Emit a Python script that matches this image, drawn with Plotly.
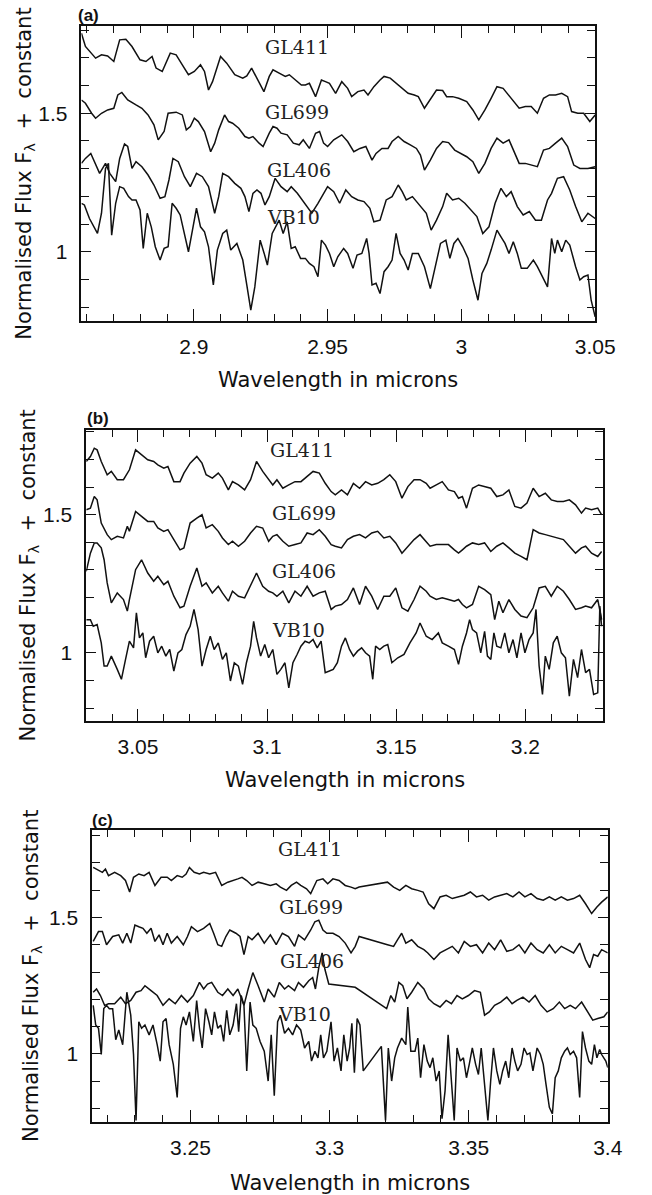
import plotly.graph_objects as go

# ---------------- Panel (a) data ----------------
a_gl411_wl = [2.8580, 2.8595, 2.8633, 2.8655, 2.8678, 2.8701, 2.8723, 2.8746, 2.8769, 2.8799,
              2.8821, 2.8844, 2.8859, 2.8882, 2.8912, 2.8934, 2.8957, 2.8980, 2.9002, 2.9025,
              2.9040, 2.9055, 2.9070, 2.9100, 2.9123, 2.9153, 2.9183, 2.9198, 2.9216, 2.9236,
              2.9262, 2.9282, 2.9296, 2.9319, 2.9342, 2.9357, 2.9379, 2.9402, 2.9417, 2.9432,
              2.9455, 2.9477, 2.9492, 2.9507, 2.9530, 2.9553, 2.9575, 2.9590, 2.9613, 2.9636,
              2.9651, 2.9673, 2.9696, 2.9711, 2.9734, 2.9756, 2.9779, 2.9801, 2.9824, 2.9839,
              2.9862, 2.9884, 2.9907, 2.9930, 2.9945, 2.9967, 2.9990, 3.0020, 3.0043, 3.0065,
              3.0088, 3.0111, 3.0133, 3.0156, 3.0171, 3.0201, 3.0216, 3.0239, 3.0261, 3.0284,
              3.0307, 3.0329, 3.0352, 3.0375, 3.0397, 3.0412, 3.0435, 3.0457, 3.0480, 3.0500]
a_gl411_fx = [1.789, 1.741, 1.699, 1.711, 1.707, 1.687, 1.765, 1.767, 1.741, 1.693,
              1.687, 1.705, 1.663, 1.651, 1.717, 1.711, 1.675, 1.639, 1.651, 1.675,
              1.651, 1.584, 1.614, 1.705, 1.681, 1.639, 1.627, 1.635, 1.663, 1.627,
              1.578, 1.633, 1.657, 1.645, 1.633, 1.639, 1.620, 1.602, 1.602, 1.608,
              1.560, 1.620, 1.614, 1.608, 1.572, 1.614, 1.590, 1.560, 1.578, 1.584,
              1.566, 1.596, 1.620, 1.633, 1.627, 1.608, 1.590, 1.572, 1.566, 1.560,
              1.518, 1.548, 1.584, 1.582, 1.560, 1.560, 1.554, 1.542, 1.512, 1.476,
              1.512, 1.554, 1.596, 1.590, 1.572, 1.536, 1.518, 1.524, 1.524, 1.500,
              1.554, 1.566, 1.566, 1.572, 1.560, 1.506, 1.500, 1.500, 1.470, 1.494]

a_gl699_wl = [2.8580, 2.8595, 2.8618, 2.8633, 2.8655, 2.8678, 2.8701, 2.8716, 2.8731, 2.8753,
              2.8784, 2.8806, 2.8829, 2.8851, 2.8867, 2.8889, 2.8904, 2.8934, 2.8957, 2.8972,
              2.8987, 2.9002, 2.9017, 2.9040, 2.9063, 2.9078, 2.9093, 2.9115, 2.9130, 2.9145,
              2.9168, 2.9191, 2.9206, 2.9221, 2.9244, 2.9259, 2.9282, 2.9296, 2.9311, 2.9326,
              2.9349, 2.9372, 2.9394, 2.9409, 2.9432, 2.9455, 2.9470, 2.9485, 2.9500, 2.9523,
              2.9553, 2.9575, 2.9598, 2.9621, 2.9643, 2.9666, 2.9681, 2.9703, 2.9726, 2.9741,
              2.9764, 2.9786, 2.9809, 2.9832, 2.9847, 2.9862, 2.9884, 2.9907, 2.9930, 2.9952,
              2.9975, 2.9998, 3.0020, 3.0043, 3.0065, 3.0088, 3.0111, 3.0133, 3.0156, 3.0178,
              3.0201, 3.0216, 3.0239, 3.0261, 3.0284, 3.0307, 3.0329, 3.0352, 3.0375, 3.0397,
              3.0420, 3.0443, 3.0473, 3.0500]
a_gl699_fx = [1.548, 1.536, 1.500, 1.482, 1.500, 1.512, 1.518, 1.566, 1.575, 1.548,
              1.530, 1.518, 1.494, 1.458, 1.404, 1.434, 1.500, 1.504, 1.494, 1.440,
              1.452, 1.482, 1.470, 1.434, 1.361, 1.392, 1.440, 1.494, 1.470, 1.464,
              1.446, 1.416, 1.410, 1.416, 1.392, 1.380, 1.428, 1.452, 1.446, 1.428,
              1.422, 1.392, 1.386, 1.404, 1.373, 1.428, 1.434, 1.392, 1.380, 1.404,
              1.422, 1.398, 1.361, 1.373, 1.380, 1.331, 1.355, 1.373, 1.373, 1.398,
              1.416, 1.398, 1.386, 1.373, 1.349, 1.295, 1.331, 1.373, 1.398, 1.394,
              1.367, 1.355, 1.343, 1.325, 1.283, 1.319, 1.373, 1.410, 1.392, 1.404,
              1.355, 1.319, 1.319, 1.313, 1.307, 1.367, 1.373, 1.392, 1.410, 1.380,
              1.313, 1.301, 1.301, 1.307]

a_gl406_wl = [2.8580, 2.8595, 2.8615, 2.8633, 2.8648, 2.8670, 2.8686, 2.8708, 2.8723, 2.8741,
              2.8753, 2.8769, 2.8784, 2.8806, 2.8829, 2.8851, 2.8874, 2.8892, 2.8907, 2.8922,
              2.8942, 2.8965, 2.8987, 2.9010, 2.9032, 2.9055, 2.9078, 2.9093, 2.9108, 2.9130,
              2.9153, 2.9176, 2.9191, 2.9206, 2.9221, 2.9236, 2.9251, 2.9266, 2.9282, 2.9304,
              2.9326, 2.9349, 2.9364, 2.9387, 2.9417, 2.9441, 2.9464, 2.9500, 2.9523, 2.9545,
              2.9568, 2.9590, 2.9613, 2.9636, 2.9658, 2.9673, 2.9696, 2.9719, 2.9741, 2.9764,
              2.9779, 2.9794, 2.9817, 2.9839, 2.9869, 2.9887, 2.9907, 2.9930, 2.9945, 2.9967,
              2.9990, 3.0013, 3.0035, 3.0058, 3.0080, 3.0103, 3.0126, 3.0148, 3.0168, 3.0186,
              3.0209, 3.0231, 3.0254, 3.0277, 3.0299, 3.0322, 3.0337, 3.0359, 3.0382, 3.0405,
              3.0427, 3.0450, 3.0473, 3.0500]
a_gl406_fx = [1.319, 1.337, 1.355, 1.319, 1.283, 1.319, 1.283, 1.253, 1.337, 1.389,
              1.380, 1.301, 1.325, 1.307, 1.277, 1.241, 1.193, 1.199, 1.259, 1.337,
              1.325, 1.271, 1.235, 1.283, 1.271, 1.235, 1.139, 1.199, 1.283, 1.271,
              1.247, 1.229, 1.199, 1.145, 1.211, 1.223, 1.211, 1.169, 1.199, 1.265,
              1.235, 1.217, 1.235, 1.211, 1.169, 1.139, 1.175, 1.235, 1.217, 1.175,
              1.223, 1.199, 1.187, 1.181, 1.157, 1.108, 1.114, 1.187, 1.199, 1.241,
              1.217, 1.187, 1.199, 1.175, 1.139, 1.078, 1.114, 1.163, 1.211, 1.187,
              1.193, 1.175, 1.151, 1.127, 1.066, 1.090, 1.175, 1.229, 1.199, 1.217,
              1.163, 1.133, 1.145, 1.114, 1.114, 1.187, 1.211, 1.265, 1.271, 1.223,
              1.163, 1.108, 1.139, 1.120]

a_vb10_wl = [2.8580, 2.8591, 2.8610, 2.8625, 2.8640, 2.8655, 2.8670, 2.8681, 2.8693, 2.8708,
             2.8723, 2.8738, 2.8756, 2.8769, 2.8784, 2.8799, 2.8811, 2.8826, 2.8841, 2.8856,
             2.8874, 2.8889, 2.8904, 2.8919, 2.8934, 2.8949, 2.8965, 2.8980, 2.8995, 2.9010,
             2.9025, 2.9040, 2.9055, 2.9073, 2.9088, 2.9108, 2.9123, 2.9138, 2.9161, 2.9183,
             2.9198, 2.9213, 2.9228, 2.9248, 2.9263, 2.9275, 2.9293, 2.9319, 2.9334, 2.9349,
             2.9364, 2.9379, 2.9399, 2.9417, 2.9432, 2.9449, 2.9464, 2.9477, 2.9492, 2.9507,
             2.9523, 2.9538, 2.9560, 2.9575, 2.9595, 2.9610, 2.9628, 2.9646, 2.9655, 2.9666,
             2.9681, 2.9696, 2.9711, 2.9726, 2.9741, 2.9756, 2.9771, 2.9786, 2.9801, 2.9817,
             2.9839, 2.9862, 2.9884, 2.9903, 2.9922, 2.9942, 2.9957, 2.9972, 2.9987, 3.0005,
             3.0025, 3.0043, 3.0062, 3.0077, 3.0095, 3.0111, 3.0133, 3.0148, 3.0163, 3.0178,
             3.0194, 3.0209, 3.0224, 3.0246, 3.0269, 3.0284, 3.0307, 3.0322, 3.0337, 3.0349,
             3.0359, 3.0375, 3.0390, 3.0405, 3.0427, 3.0443, 3.0457, 3.0473, 3.0485, 3.0500]
a_vb10_fx = [1.175, 1.169, 1.120, 1.090, 1.066, 1.139, 1.301, 1.319, 1.060, 1.175,
             1.235, 1.229, 1.199, 1.187, 1.187, 1.151, 1.012, 1.139, 1.090, 1.018,
             0.970, 1.012, 1.018, 1.175, 1.157, 1.133, 1.066, 1.000, 1.078, 1.157,
             1.090, 1.072, 1.018, 0.880, 1.006, 1.066, 1.078, 1.006, 1.030, 0.970,
             0.880, 0.789, 0.873, 1.042, 0.994, 0.952, 1.066, 1.114, 1.066, 1.108,
             1.012, 1.018, 0.976, 0.976, 0.958, 0.946, 0.910, 1.042, 1.024, 0.994,
             0.946, 0.982, 1.012, 0.994, 0.940, 0.988, 0.994, 1.048, 0.994, 0.880,
             0.886, 0.849, 0.928, 0.946, 0.970, 1.066, 0.994, 0.970, 0.934, 0.994,
             0.994, 0.946, 0.867, 0.946, 1.030, 1.042, 0.976, 1.030, 1.048, 1.018,
             0.976, 0.898, 0.825, 0.922, 0.958, 1.006, 1.078, 1.054, 1.030, 0.994,
             1.036, 0.994, 0.940, 0.940, 0.970, 0.946, 0.898, 0.873, 1.048, 0.994,
             1.042, 1.000, 1.042, 1.024, 0.946, 0.898, 0.910, 0.916, 0.825, 0.765]

# ---------------- Panel (b) data ----------------
b_gl411_wl = [3.0300, 3.0316, 3.0331, 3.0342, 3.0358, 3.0381, 3.0397, 3.0420, 3.0444, 3.0467,
              3.0491, 3.0514, 3.0538, 3.0561, 3.0577, 3.0600, 3.0616, 3.0639, 3.0663, 3.0678,
              3.0702, 3.0728, 3.0748, 3.0764, 3.0788, 3.0811, 3.0827, 3.0850, 3.0866, 3.0889,
              3.0913, 3.0936, 3.0959, 3.0983, 3.1006, 3.1022, 3.1038, 3.1061, 3.1084, 3.1108,
              3.1131, 3.1155, 3.1178, 3.1202, 3.1225, 3.1248, 3.1264, 3.1288, 3.1311, 3.1334,
              3.1358, 3.1381, 3.1405, 3.1428, 3.1452, 3.1475, 3.1498, 3.1522, 3.1545, 3.1569,
              3.1592, 3.1616, 3.1631, 3.1655, 3.1678, 3.1702, 3.1725, 3.1741, 3.1756, 3.1772,
              3.1795, 3.1819, 3.1842, 3.1866, 3.1889, 3.1913, 3.1936, 3.1959, 3.1983, 3.2006,
              3.2030, 3.2053, 3.2077, 3.2100, 3.2123, 3.2147, 3.2170, 3.2194, 3.2217, 3.2233,
              3.2256, 3.2280, 3.2295]
b_gl411_fx = [1.693, 1.711, 1.741, 1.735, 1.693, 1.645, 1.657, 1.627, 1.627, 1.663,
              1.735, 1.717, 1.699, 1.693, 1.681, 1.669, 1.675, 1.620, 1.620, 1.651,
              1.687, 1.711, 1.687, 1.645, 1.633, 1.651, 1.633, 1.590, 1.620, 1.608,
              1.590, 1.627, 1.693, 1.657, 1.627, 1.608, 1.627, 1.596, 1.608, 1.620,
              1.620, 1.639, 1.657, 1.651, 1.614, 1.584, 1.572, 1.590, 1.572, 1.614,
              1.596, 1.620, 1.608, 1.614, 1.627, 1.645, 1.620, 1.560, 1.602, 1.627,
              1.627, 1.614, 1.596, 1.608, 1.620, 1.590, 1.584, 1.560, 1.566, 1.524,
              1.596, 1.608, 1.602, 1.596, 1.566, 1.572, 1.590, 1.530, 1.524, 1.542,
              1.596, 1.566, 1.578, 1.554, 1.548, 1.548, 1.554, 1.536, 1.506, 1.524,
              1.518, 1.524, 1.500]

b_gl699_wl = [3.0300, 3.0316, 3.0331, 3.0342, 3.0358, 3.0381, 3.0397, 3.0420, 3.0444, 3.0459,
              3.0467, 3.0491, 3.0514, 3.0538, 3.0561, 3.0577, 3.0600, 3.0616, 3.0639, 3.0663,
              3.0678, 3.0702, 3.0728, 3.0748, 3.0764, 3.0788, 3.0811, 3.0827, 3.0850, 3.0866,
              3.0889, 3.0913, 3.0936, 3.0959, 3.0983, 3.1006, 3.1022, 3.1038, 3.1061, 3.1084,
              3.1108, 3.1131, 3.1155, 3.1178, 3.1202, 3.1225, 3.1248, 3.1264, 3.1288, 3.1311,
              3.1334, 3.1358, 3.1381, 3.1405, 3.1428, 3.1452, 3.1475, 3.1498, 3.1522, 3.1545,
              3.1569, 3.1592, 3.1616, 3.1631, 3.1655, 3.1678, 3.1702, 3.1725, 3.1741, 3.1756,
              3.1772, 3.1795, 3.1819, 3.1842, 3.1866, 3.1889, 3.1913, 3.1936, 3.1959, 3.1983,
              3.2006, 3.2030, 3.2053, 3.2077, 3.2100, 3.2123, 3.2147, 3.2170, 3.2194, 3.2217,
              3.2233, 3.2256, 3.2280, 3.2295]
b_gl699_fx = [1.518, 1.524, 1.566, 1.554, 1.470, 1.428, 1.410, 1.422, 1.416, 1.458,
              1.440, 1.512, 1.494, 1.476, 1.476, 1.452, 1.440, 1.446, 1.410, 1.373,
              1.380, 1.470, 1.488, 1.500, 1.452, 1.464, 1.440, 1.416, 1.392, 1.404,
              1.386, 1.404, 1.434, 1.458, 1.452, 1.404, 1.422, 1.428, 1.404, 1.386,
              1.392, 1.398, 1.434, 1.428, 1.446, 1.422, 1.392, 1.386, 1.380, 1.410,
              1.422, 1.428, 1.416, 1.434, 1.440, 1.416, 1.422, 1.398, 1.361, 1.386,
              1.410, 1.428, 1.404, 1.386, 1.392, 1.392, 1.392, 1.373, 1.361, 1.373,
              1.386, 1.398, 1.392, 1.398, 1.367, 1.386, 1.398, 1.380, 1.361, 1.349,
              1.337, 1.446, 1.434, 1.428, 1.422, 1.416, 1.410, 1.386, 1.361, 1.380,
              1.386, 1.361, 1.349, 1.367]

b_gl406_wl = [3.0300, 3.0316, 3.0331, 3.0342, 3.0358, 3.0369, 3.0381, 3.0397, 3.0420, 3.0444,
              3.0459, 3.0467, 3.0491, 3.0514, 3.0538, 3.0561, 3.0577, 3.0600, 3.0616, 3.0639,
              3.0663, 3.0678, 3.0702, 3.0728, 3.0748, 3.0764, 3.0788, 3.0811, 3.0827, 3.0850,
              3.0866, 3.0889, 3.0913, 3.0936, 3.0959, 3.0983, 3.1006, 3.1022, 3.1038, 3.1061,
              3.1084, 3.1108, 3.1131, 3.1155, 3.1178, 3.1202, 3.1225, 3.1248, 3.1264, 3.1288,
              3.1311, 3.1334, 3.1358, 3.1381, 3.1405, 3.1428, 3.1452, 3.1475, 3.1498, 3.1522,
              3.1545, 3.1569, 3.1592, 3.1616, 3.1631, 3.1655, 3.1678, 3.1702, 3.1725, 3.1741,
              3.1756, 3.1772, 3.1795, 3.1819, 3.1842, 3.1866, 3.1881, 3.1897, 3.1913, 3.1936,
              3.1959, 3.1983, 3.2006, 3.2030, 3.2053, 3.2077, 3.2100, 3.2123, 3.2147, 3.2170,
              3.2194, 3.2217, 3.2233, 3.2256, 3.2280, 3.2295]
b_gl406_fx = [1.295, 1.361, 1.398, 1.398, 1.380, 1.337, 1.253, 1.181, 1.217, 1.193,
              1.151, 1.193, 1.301, 1.337, 1.289, 1.259, 1.277, 1.247, 1.259, 1.205,
              1.163, 1.169, 1.241, 1.307, 1.241, 1.253, 1.217, 1.241, 1.217, 1.187,
              1.223, 1.205, 1.199, 1.241, 1.289, 1.241, 1.223, 1.217, 1.205, 1.223,
              1.181, 1.223, 1.205, 1.241, 1.205, 1.217, 1.223, 1.157, 1.169, 1.175,
              1.193, 1.235, 1.175, 1.241, 1.205, 1.157, 1.205, 1.205, 1.235, 1.163,
              1.151, 1.193, 1.241, 1.223, 1.205, 1.193, 1.199, 1.193, 1.187, 1.193,
              1.175, 1.163, 1.175, 1.241, 1.229, 1.211, 1.120, 1.187, 1.145, 1.193,
              1.157, 1.133, 1.127, 1.163, 1.235, 1.241, 1.205, 1.241, 1.223, 1.193,
              1.157, 1.163, 1.169, 1.163, 1.193, 1.120]

b_vb10_wl = [3.0300, 3.0316, 3.0327, 3.0342, 3.0358, 3.0369, 3.0381, 3.0397, 3.0420, 3.0436,
             3.0452, 3.0467, 3.0483, 3.0494, 3.0506, 3.0519, 3.0530, 3.0545, 3.0561, 3.0577,
             3.0592, 3.0608, 3.0623, 3.0639, 3.0655, 3.0670, 3.0686, 3.0702, 3.0717, 3.0733,
             3.0748, 3.0764, 3.0780, 3.0795, 3.0811, 3.0827, 3.0842, 3.0858, 3.0873, 3.0889,
             3.0905, 3.0920, 3.0936, 3.0948, 3.0959, 3.0975, 3.0991, 3.1006, 3.1022, 3.1038,
             3.1053, 3.1069, 3.1084, 3.1100, 3.1116, 3.1131, 3.1147, 3.1163, 3.1178, 3.1194,
             3.1209, 3.1225, 3.1241, 3.1256, 3.1272, 3.1288, 3.1303, 3.1319, 3.1334, 3.1350,
             3.1366, 3.1381, 3.1397, 3.1409, 3.1420, 3.1436, 3.1452, 3.1467, 3.1483, 3.1506,
             3.1530, 3.1553, 3.1577, 3.1592, 3.1616, 3.1639, 3.1663, 3.1678, 3.1702, 3.1725,
             3.1741, 3.1756, 3.1772, 3.1784, 3.1795, 3.1811, 3.1827, 3.1842, 3.1853, 3.1866,
             3.1878, 3.1889, 3.1905, 3.1920, 3.1936, 3.1952, 3.1967, 3.1983, 3.1998, 3.2014,
             3.2030, 3.2041, 3.2053, 3.2066, 3.2077, 3.2092, 3.2108, 3.2123, 3.2139, 3.2155,
             3.2170, 3.2186, 3.2202, 3.2217, 3.2233, 3.2248, 3.2264, 3.2280, 3.2288, 3.2295]
b_vb10_fx = [1.120, 1.120, 1.096, 1.102, 1.036, 0.952, 0.952, 0.988, 0.940, 0.904,
             0.976, 1.042, 1.018, 1.145, 1.054, 1.072, 0.982, 1.042, 1.060, 1.000,
             1.024, 0.988, 1.012, 0.934, 1.000, 1.012, 1.066, 1.096, 1.157, 1.084,
             0.952, 1.012, 1.060, 1.012, 1.036, 0.976, 1.000, 0.898, 0.964, 0.952,
             0.886, 0.964, 1.024, 1.114, 1.054, 0.988, 1.030, 0.982, 1.012, 0.922,
             0.940, 0.964, 0.873, 0.964, 0.994, 1.024, 1.042, 1.036, 1.048, 1.018,
             1.042, 0.928, 0.934, 0.940, 0.964, 1.024, 1.054, 1.012, 0.988, 1.006,
             1.018, 1.000, 0.988, 0.904, 1.024, 1.012, 1.024, 1.030, 0.964, 0.982,
             0.994, 1.036, 1.072, 1.108, 1.060, 1.048, 1.072, 1.036, 1.024, 1.012,
             0.958, 1.024, 1.072, 1.120, 1.084, 1.072, 1.000, 1.078, 0.988, 0.976,
             1.072, 1.024, 1.018, 1.072, 1.000, 1.048, 0.982, 1.072, 1.000, 1.048,
             1.072, 1.157, 0.952, 0.849, 0.988, 0.940, 1.036, 1.060, 1.000, 0.982,
             0.843, 0.976, 0.910, 1.012, 0.928, 0.940, 0.849, 0.855, 1.169, 1.096]

# ---------------- Panel (c) data ----------------
c_gl411_wl = [3.2150, 3.2169, 3.2183, 3.2194, 3.2205, 3.2227, 3.2249, 3.2266, 3.2281, 3.2295,
              3.2314, 3.2333, 3.2351, 3.2372, 3.2394, 3.2416, 3.2431, 3.2452, 3.2470, 3.2484,
              3.2496, 3.2513, 3.2532, 3.2547, 3.2569, 3.2590, 3.2612, 3.2634, 3.2656, 3.2670,
              3.2685, 3.2702, 3.2721, 3.2743, 3.2765, 3.2787, 3.2808, 3.2823, 3.2845, 3.2862,
              3.2881, 3.2896, 3.2917, 3.2932, 3.2954, 3.2976, 3.2993, 3.3012, 3.3034, 3.3056,
              3.3077, 3.3092, 3.3106, 3.3208, 3.3230, 3.3252, 3.3274, 3.3295, 3.3317, 3.3336,
              3.3356, 3.3375, 3.3397, 3.3419, 3.3441, 3.3463, 3.3484, 3.3506, 3.3528, 3.3550,
              3.3572, 3.3593, 3.3615, 3.3637, 3.3659, 3.3681, 3.3702, 3.3724, 3.3746, 3.3768,
              3.3790, 3.3811, 3.3833, 3.3855, 3.3877, 3.3899, 3.3920, 3.3942, 3.3961, 3.3978,
              3.4000]
c_gl411_fx = [1.683, 1.671, 1.665, 1.677, 1.653, 1.665, 1.653, 1.635, 1.593, 1.647,
              1.659, 1.653, 1.665, 1.617, 1.647, 1.647, 1.635, 1.653, 1.647, 1.659,
              1.683, 1.665, 1.659, 1.665, 1.659, 1.665, 1.617, 1.629, 1.635, 1.641,
              1.647, 1.635, 1.617, 1.629, 1.623, 1.617, 1.623, 1.611, 1.599, 1.617,
              1.629, 1.617, 1.605, 1.587, 1.635, 1.641, 1.623, 1.641, 1.635, 1.617,
              1.611, 1.605, 1.611, 1.629, 1.611, 1.599, 1.617, 1.605, 1.599, 1.593,
              1.550, 1.532, 1.575, 1.581, 1.569, 1.575, 1.581, 1.593, 1.575, 1.581,
              1.563, 1.575, 1.581, 1.587, 1.575, 1.593, 1.575, 1.587, 1.569, 1.563,
              1.575, 1.563, 1.575, 1.563, 1.569, 1.581, 1.550, 1.514, 1.538, 1.556,
              1.575]

c_gl699_wl = [3.2150, 3.2169, 3.2183, 3.2198, 3.2220, 3.2242, 3.2256, 3.2271, 3.2285, 3.2300,
              3.2314, 3.2329, 3.2343, 3.2358, 3.2372, 3.2387, 3.2401, 3.2416, 3.2431, 3.2452,
              3.2474, 3.2489, 3.2503, 3.2525, 3.2547, 3.2569, 3.2583, 3.2598, 3.2612, 3.2627,
              3.2641, 3.2663, 3.2678, 3.2692, 3.2707, 3.2721, 3.2743, 3.2765, 3.2787, 3.2808,
              3.2830, 3.2852, 3.2874, 3.2888, 3.2910, 3.2932, 3.2947, 3.2961, 3.2976, 3.2990,
              3.3012, 3.3034, 3.3056, 3.3077, 3.3092, 3.3106, 3.3208, 3.3230, 3.3244, 3.3259,
              3.3274, 3.3295, 3.3317, 3.3339, 3.3353, 3.3375, 3.3397, 3.3419, 3.3441, 3.3463,
              3.3484, 3.3506, 3.3528, 3.3550, 3.3572, 3.3593, 3.3615, 3.3637, 3.3659, 3.3681,
              3.3702, 3.3724, 3.3746, 3.3768, 3.3790, 3.3811, 3.3833, 3.3855, 3.3877, 3.3899,
              3.3920, 3.3935, 3.3949, 3.3964, 3.3978, 3.4000]
c_gl699_fx = [1.412, 1.448, 1.448, 1.400, 1.430, 1.436, 1.406, 1.442, 1.406, 1.472,
              1.466, 1.460, 1.442, 1.460, 1.412, 1.436, 1.400, 1.442, 1.406, 1.430,
              1.400, 1.430, 1.466, 1.448, 1.460, 1.478, 1.442, 1.400, 1.394, 1.430,
              1.454, 1.442, 1.430, 1.364, 1.430, 1.418, 1.442, 1.406, 1.436, 1.400,
              1.442, 1.430, 1.394, 1.436, 1.418, 1.454, 1.484, 1.490, 1.454, 1.442,
              1.442, 1.430, 1.406, 1.370, 1.394, 1.430, 1.400, 1.394, 1.418, 1.442,
              1.406, 1.418, 1.394, 1.382, 1.370, 1.346, 1.370, 1.382, 1.394, 1.370,
              1.412, 1.394, 1.400, 1.370, 1.406, 1.382, 1.418, 1.376, 1.382, 1.400,
              1.370, 1.406, 1.382, 1.370, 1.400, 1.370, 1.394, 1.382, 1.370, 1.406,
              1.346, 1.316, 1.364, 1.358, 1.382, 1.370]

c_gl406_wl = [3.2150, 3.2162, 3.2176, 3.2191, 3.2205, 3.2227, 3.2249, 3.2266, 3.2285, 3.2304,
              3.2322, 3.2336, 3.2358, 3.2380, 3.2401, 3.2423, 3.2445, 3.2467, 3.2489, 3.2510,
              3.2532, 3.2547, 3.2561, 3.2576, 3.2598, 3.2615, 3.2634, 3.2653, 3.2670, 3.2692,
              3.2707, 3.2724, 3.2743, 3.2765, 3.2779, 3.2801, 3.2819, 3.2838, 3.2852, 3.2874,
              3.2888, 3.2906, 3.2925, 3.2939, 3.2949, 3.2961, 3.2973, 3.2983, 3.2997, 3.3092,
              3.3205, 3.3220, 3.3234, 3.3249, 3.3263, 3.3278, 3.3295, 3.3317, 3.3339, 3.3356,
              3.3375, 3.3397, 3.3419, 3.3438, 3.3458, 3.3477, 3.3499, 3.3521, 3.3542, 3.3557,
              3.3574, 3.3593, 3.3615, 3.3637, 3.3656, 3.3673, 3.3695, 3.3717, 3.3739, 3.3760,
              3.3782, 3.3804, 3.3826, 3.3845, 3.3865, 3.3884, 3.3906, 3.3928, 3.3946, 3.3964,
              3.3986, 3.4000]
c_gl406_fx = [1.226, 1.238, 1.214, 1.178, 1.184, 1.184, 1.208, 1.184, 1.196, 1.226,
              1.232, 1.250, 1.232, 1.214, 1.178, 1.202, 1.184, 1.214, 1.190, 1.214,
              1.262, 1.238, 1.256, 1.262, 1.226, 1.214, 1.238, 1.214, 1.238, 1.178,
              1.238, 1.298, 1.250, 1.190, 1.238, 1.208, 1.262, 1.238, 1.250, 1.232,
              1.262, 1.244, 1.268, 1.280, 1.238, 1.316, 1.370, 1.310, 1.256, 1.244,
              1.166, 1.214, 1.190, 1.262, 1.250, 1.202, 1.226, 1.262, 1.238, 1.202,
              1.184, 1.172, 1.196, 1.184, 1.214, 1.202, 1.214, 1.232, 1.226, 1.142,
              1.154, 1.178, 1.190, 1.208, 1.184, 1.196, 1.208, 1.190, 1.214, 1.178,
              1.154, 1.166, 1.190, 1.166, 1.178, 1.166, 1.190, 1.154, 1.124, 1.130,
              1.136, 1.154]

c_vb10_wl = [3.2150, 3.2159, 3.2169, 3.2179, 3.2188, 3.2198, 3.2208, 3.2220, 3.2231, 3.2242,
             3.2256, 3.2271, 3.2285, 3.2295, 3.2304, 3.2314, 3.2324, 3.2336, 3.2351, 3.2365,
             3.2380, 3.2391, 3.2401, 3.2412, 3.2423, 3.2438, 3.2452, 3.2464, 3.2474, 3.2484,
             3.2496, 3.2510, 3.2522, 3.2532, 3.2542, 3.2554, 3.2566, 3.2576, 3.2586, 3.2598,
             3.2609, 3.2619, 3.2630, 3.2641, 3.2653, 3.2665, 3.2673, 3.2682, 3.2692, 3.2702,
             3.2714, 3.2724, 3.2736, 3.2750, 3.2765, 3.2779, 3.2790, 3.2801, 3.2813, 3.2823,
             3.2838, 3.2852, 3.2867, 3.2881, 3.2896, 3.2910, 3.2925, 3.2935, 3.2947, 3.2958,
             3.2968, 3.2978, 3.2990, 3.3005, 3.3016, 3.3028, 3.3041, 3.3051, 3.3063, 3.3072,
             3.3080, 3.3089, 3.3099, 3.3109, 3.3121, 3.3186, 3.3201, 3.3211, 3.3223, 3.3234,
             3.3244, 3.3259, 3.3274, 3.3281, 3.3292, 3.3307, 3.3317, 3.3327, 3.3339, 3.3351,
             3.3361, 3.3371, 3.3383, 3.3394, 3.3404, 3.3415, 3.3426, 3.3438, 3.3448, 3.3458,
             3.3470, 3.3481, 3.3492, 3.3502, 3.3513, 3.3525, 3.3535, 3.3545, 3.3557, 3.3569,
             3.3579, 3.3589, 3.3601, 3.3612, 3.3622, 3.3633, 3.3644, 3.3656, 3.3666, 3.3676,
             3.3688, 3.3699, 3.3710, 3.3720, 3.3731, 3.3746, 3.3758, 3.3768, 3.3778, 3.3790,
             3.3801, 3.3811, 3.3822, 3.3833, 3.3845, 3.3855, 3.3865, 3.3877, 3.3888, 3.3899,
             3.3909, 3.3920, 3.3932, 3.3942, 3.3952, 3.3961, 3.3971, 3.3978, 3.3993, 3.4000]
c_vb10_fx = [1.178, 1.106, 1.094, 0.998, 1.166, 1.178, 1.166, 1.166, 1.052, 1.088,
             1.034, 1.226, 1.142, 0.998, 0.757, 1.118, 1.094, 1.106, 1.070, 1.106,
             1.034, 0.974, 1.118, 1.130, 1.034, 0.962, 0.841, 1.094, 1.136, 1.106,
             1.154, 1.046, 1.196, 1.094, 1.022, 1.166, 1.118, 1.070, 1.154, 1.094,
             1.106, 1.046, 1.160, 1.070, 1.106, 1.184, 1.082, 1.214, 1.178, 0.938,
             1.190, 1.106, 1.094, 1.046, 1.010, 0.901, 1.070, 0.847, 1.118, 1.142,
             1.076, 1.094, 1.070, 1.106, 1.088, 1.022, 1.046, 0.974, 1.010, 0.986,
             1.070, 0.986, 1.010, 1.118, 0.974, 1.022, 0.938, 1.070, 0.974, 1.022,
             1.112, 0.931, 1.130, 1.106, 0.938, 1.028, 0.757, 1.022, 0.901, 0.986,
             1.022, 1.058, 1.034, 1.172, 1.010, 1.010, 1.058, 0.913, 1.034, 0.974,
             0.950, 0.986, 0.901, 0.938, 0.763, 0.865, 1.070, 0.901, 0.757, 1.022,
             0.974, 0.986, 0.913, 0.962, 1.022, 0.962, 0.925, 1.022, 0.901, 0.757,
             0.901, 1.022, 0.938, 0.889, 0.938, 0.974, 0.913, 1.022, 0.974, 0.938,
             0.962, 1.022, 0.998, 1.004, 0.938, 1.022, 0.998, 0.962, 0.889, 0.805,
             0.781, 0.913, 0.938, 0.986, 1.010, 1.022, 0.998, 1.010, 0.986, 0.841,
             1.082, 1.022, 0.974, 0.962, 1.034, 0.986, 1.016, 0.998, 0.974, 0.950]

# star labels and their positions (wavelength, flux) per panel
star_names = ["GL411", "GL699", "GL406", "VB10"]
a_label_wl = [2.9387, 2.9387, 2.9394, 2.9372]
a_label_fx = [1.741, 1.506, 1.295, 1.126]
b_label_wl = [3.1134, 3.1142, 3.1142, 3.1123]
b_label_fx = [1.735, 1.506, 1.295, 1.084]
c_label_wl = [3.2930, 3.2933, 3.2935, 3.2911]
c_label_fx = [1.749, 1.538, 1.340, 1.148]

# ticks
y_label_vals = [1.0, 1.5]
y_label_text = ["1", "1.5"]
y_minor_vals = [0.8, 0.9, 1.1, 1.2, 1.3, 1.4, 1.6, 1.7, 1.8]
a_x_label_vals = [2.90, 2.95, 3.00, 3.05]
a_x_label_text = ["2.9", "2.95", "3", "3.05"]
a_x_minor_vals = [2.86, 2.87, 2.88, 2.89, 2.91, 2.92, 2.93, 2.94,
                  2.96, 2.97, 2.98, 2.99, 3.01, 3.02, 3.03, 3.04]
b_x_label_vals = [3.05, 3.10, 3.15, 3.20]
b_x_label_text = ["3.05", "3.1", "3.15", "3.2"]
b_x_minor_vals = [3.03, 3.04, 3.06, 3.07, 3.08, 3.09, 3.11, 3.12, 3.13, 3.14,
                  3.16, 3.17, 3.18, 3.19, 3.21, 3.22, 3.23]
c_x_label_vals = [3.25, 3.30, 3.35, 3.40]
c_x_label_text = ["3.25", "3.3", "3.35", "3.4"]
c_x_minor_vals = [3.22, 3.23, 3.24, 3.26, 3.27, 3.28, 3.29, 3.31, 3.32, 3.33,
                  3.34, 3.36, 3.37, 3.38, 3.39]

# ---------------- Layout helpers ----------------
W, H = 652, 1195


def xdom(l, r):
    return [l / W, r / W]


def ydom(t, b):
    return [1 - b / H, 1 - t / H]


panels = [
    dict(key="", box=(84, 614, 26, 321), xr=[2.858, 3.05], yr=[0.75, 1.815],
         tv=a_x_label_vals, tt=a_x_label_text, mv=a_x_minor_vals,
         tag="(a)", tagx=78, tagy=16, ytitle_x=25, xtitle_y=380,
         series=[(a_gl411_wl, a_gl411_fx), (a_gl699_wl, a_gl699_fx),
                 (a_gl406_wl, a_gl406_fx), (a_vb10_wl, a_vb10_fx)],
         lw=a_label_wl, lf=a_label_fx),
    dict(key="2", box=(89, 622, 430, 721), xr=[3.030, 3.230], yr=[0.753, 1.807],
         tv=b_x_label_vals, tt=b_x_label_text, mv=b_x_minor_vals,
         tag="(b)", tagx=88, tagy=418, ytitle_x=30, xtitle_y=780,
         series=[(b_gl411_wl, b_gl411_fx), (b_gl699_wl, b_gl699_fx),
                 (b_gl406_wl, b_gl406_fx), (b_vb10_wl, b_vb10_fx)],
         lw=b_label_wl, lf=b_label_fx),
    dict(key="3", box=(95, 627, 830, 1122), xr=[3.2146, 3.40], yr=[0.751, 1.82],
         tv=c_x_label_vals, tt=c_x_label_text, mv=c_x_minor_vals,
         tag="(c)", tagx=93, tagy=820, ytitle_x=33, xtitle_y=1183,
         series=[(c_gl411_wl, c_gl411_fx), (c_gl699_wl, c_gl699_fx),
                 (c_gl406_wl, c_gl406_fx), (c_vb10_wl, c_vb10_fx)],
         lw=c_label_wl, lf=c_label_fx),
]

for p in panels:
    assert all(len(w) == len(f) for w, f in p["series"])

fig = go.Figure()
annotations = []
layout = dict(
    width=W, height=H,
    margin=dict(l=0, r=0, t=0, b=0),
    paper_bgcolor="white", plot_bgcolor="white",
    showlegend=False,
)

tick_font = dict(family="Liberation Sans, Arial, sans-serif", size=21, color="#111")
title_font = dict(family="DejaVu Sans, sans-serif", size=21, color="#111")
label_font = dict(family="DejaVu Serif, serif", size=19, color="#222")

for p in panels:
    k = p["key"]
    xa = "x" + k
    ya = "y" + k
    for wl, fx in p["series"]:
        fig.add_trace(go.Scatter(x=wl, y=fx, mode="lines", xaxis=xa, yaxis=ya,
                                 line=dict(color="#111", width=1.5),
                                 hoverinfo="skip"))
    l, r, t, b = p["box"]
    layout["xaxis" + k] = dict(
        domain=xdom(l, r), anchor=ya, range=p["xr"],
        showline=True, linecolor="#111", linewidth=1.6, mirror="ticks",
        ticks="inside", ticklen=12, tickwidth=1.4, tickcolor="#111",
        tickmode="array", tickvals=p["tv"], ticktext=p["tt"],
        minor=dict(tickmode="array", tickvals=p["mv"], ticks="inside",
                   ticklen=7, tickwidth=1.3, tickcolor="#111", showgrid=False),
        tickfont=tick_font, showgrid=False, zeroline=False,
        ticklabelstandoff=6,
    )
    layout["yaxis" + k] = dict(
        domain=ydom(t, b), anchor=xa, range=p["yr"],
        showline=True, linecolor="#111", linewidth=1.6, mirror="ticks",
        ticks="inside", ticklen=10, tickwidth=1.3, tickcolor="#111",
        tickmode="array", tickvals=y_label_vals, ticktext=y_label_text,
        minor=dict(tickmode="array", tickvals=y_minor_vals, ticks="inside",
                   ticklen=8, tickwidth=1.3, tickcolor="#111", showgrid=False),
        tickfont=tick_font, showgrid=False, zeroline=False,
        ticklabelstandoff=8,
    )
    # star labels
    for name, lx, ly in zip(star_names, p["lw"], p["lf"]):
        annotations.append(dict(x=lx, y=ly, xref=xa, yref=ya, text=name,
                                showarrow=False, font=label_font,
                                xanchor="center", yanchor="middle"))
    # panel tag
    annotations.append(dict(x=p["tagx"] / W, y=1 - p["tagy"] / H, xref="paper", yref="paper",
                            text="<b>" + p["tag"] + "</b>", showarrow=False,
                            font=dict(family="Liberation Sans, Arial, sans-serif", size=17, color="#111"),
                            xanchor="left", yanchor="middle"))
    # x title
    annotations.append(dict(x=(l + r) / 2 / W, y=1 - p["xtitle_y"] / H, xref="paper", yref="paper",
                            text="Wavelength in microns", showarrow=False, font=title_font,
                            xanchor="center", yanchor="middle"))
    # y title
    annotations.append(dict(x=p["ytitle_x"] / W, y=1 - (t + b) / 2 / H, xref="paper", yref="paper",
                            text="Normalised Flux F<sub>λ</sub>\u00a0\u00a0+\u00a0\u00a0constant",
                            showarrow=False, font=title_font, textangle=-90,
                            xanchor="center", yanchor="middle"))

layout["annotations"] = annotations
fig.update_layout(**layout)
fig.write_html("out.html")
